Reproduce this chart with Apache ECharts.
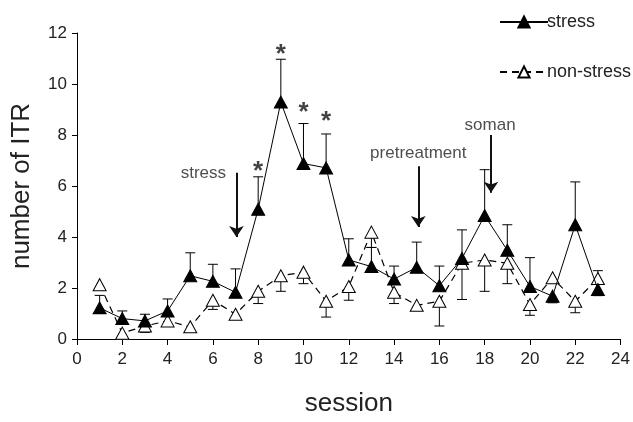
<!DOCTYPE html>
<html lang="en">
<head>
    <meta charset="UTF-8">
    <title>number of ITR per session</title>
    <script src="https://cdn.jsdelivr.net/npm/echarts@6/dist/echarts.min.js"></script>
    <style>
        html, body { margin: 0; padding: 0; background: #fff; }
        #main { width: 633px; height: 422px; }
    </style>
</head>
<body>
<div id="main"></div>
<script>
    // sessions 1..23
    var sessions = [1, 2, 3, 4, 5, 6, 7, 8, 9, 10, 11, 12, 13, 14, 15, 16, 17, 18, 19, 20, 21, 22, 23];

    var stress = [1.22, 0.80, 0.71, 1.10, 2.48, 2.26, 1.83, 5.09, 9.29, 6.88, 6.71, 3.10,
        2.84, 2.35, 2.81, 2.09, 3.16, 4.84, 3.48, 2.06, 1.68, 4.48, 1.94];
    var stressErrUp = [0.49, 0.30, 0.26, 0.47, 0.90, 0.67, 0.92, 1.27, 1.68, 1.57, 1.33, 0.83,
        0.75, 0.51, 0.99, 0.77, 1.12, 1.80, 1.00, 1.13, 0, 1.68, 0];
    var stressErrDown = [0, 0, 0, 0, 0, 0, 0, 0, 0, 0, 0, 0,
        0, 0, 0, 0, 0, 0, 0, 0, 0.26, 0, 0.24];

    var nonStress = [2.13, 0.23, 0.51, 0.71, 0.48, 1.52, 0.97, 1.87, 2.48, 2.62, 1.48, 2.06,
        4.19, 1.83, 1.32, 1.48, 2.97, 3.10, 2.97, 1.35, 2.40, 1.48, 2.37];
    var nonErrDown = [0, 0, 0.25, 0, 0, 0.36, 0, 0.48, 0.61, 0.45, 0.62, 0.54,
        0.60, 0.44, 0, 0.97, 1.42, 1.23, 0.80, 0.42, 0, 0.45, 0];
    var nonErrUp = [0, 0, 0, 0, 0, 0, 0, 0, 0, 0, 0, 0,
        0, 0, 0, 0, 0, 0, 0, 0, 0, 0, 0.31];

    // significance stars [session, y]
    var stars = [[8, 6.79], [9, 11.36], [10, 9.1], [11, 8.77]];

    // arrow annotations
    var noteText = ['stress', 'pretreatment', 'soman'];
    var notePos = [[5.58, 6.48], [15.07, 7.3], [18.24, 8.38]];
    var arrowFrom = [[7.04, 6.52], [15.07, 6.77], [18.28, 8.0]];
    var arrowTo = [[7.04, 4.0], [15.07, 4.39], [18.28, 5.74]];

    var FONT = "'Liberation Sans', Arial, sans-serif";

    var errData = [];
    for (var i = 0; i < sessions.length; i++) {
        if (stressErrUp[i] > 0) errData.push([sessions[i], stress[i], stress[i] + stressErrUp[i]]);
        if (stressErrDown[i] > 0) errData.push([sessions[i], stress[i], stress[i] - stressErrDown[i]]);
        if (nonErrUp[i] > 0) errData.push([sessions[i], nonStress[i], nonStress[i] + nonErrUp[i]]);
        if (nonErrDown[i] > 0) errData.push([sessions[i], nonStress[i], nonStress[i] - nonErrDown[i]]);
    }

    var stressData = sessions.map(function (s, i) { return [s, stress[i]]; });
    var nonData = sessions.map(function (s, i) { return [s, nonStress[i]]; });

    var arrowData = arrowFrom.map(function (p, i) { return { coords: [p, arrowTo[i]] }; });
    var noteData = notePos.map(function (p, i) { return { name: noteText[i], value: p }; });
    var starData = stars.map(function (p) { return { name: '*', value: p }; });

    var mychart = echarts.init(document.getElementById('main'));

    var option = {
        backgroundColor: '#fff',
        animation: false,
        textStyle: { fontFamily: FONT, color: '#222' },
        grid: { left: 77, right: 6, top: 33, bottom: 78, containLabel: false },
        legend: {
            data: ['stress', 'non-stress'],
            orient: 'vertical',
            left: 494,
            top: 8,
            itemWidth: 48,
            itemHeight: 14,
            itemGap: 32,
            textStyle: { fontFamily: FONT, fontSize: 18, color: '#222', padding: [0, 0, 0, -6] }
        },
        xAxis: {
            type: 'value',
            min: 0,
            max: 24,
            interval: 2,
            name: 'session',
            nameLocation: 'middle',
            nameGap: 52,
            nameTextStyle: { fontSize: 26, color: '#222', fontFamily: FONT },
            axisLine: { lineStyle: { color: '#000', width: 1 } },
            axisTick: { length: 6, lineStyle: { color: '#000' } },
            axisLabel: { fontSize: 17, color: '#222', margin: 12, fontFamily: FONT },
            splitLine: { show: false }
        },
        yAxis: {
            type: 'value',
            min: 0,
            max: 12,
            interval: 2,
            name: 'number of ITR',
            nameLocation: 'middle',
            nameGap: 42,
            nameTextStyle: { fontSize: 26, color: '#222', fontFamily: FONT },
            axisLine: { show: true, lineStyle: { color: '#000', width: 1 } },
            axisTick: { show: true, length: 5, lineStyle: { color: '#000' } },
            axisLabel: { fontSize: 17, color: '#222', margin: 10, fontFamily: FONT },
            splitLine: { show: false }
        },
        series: [
            {
                name: 'err',
                type: 'custom',
                data: errData,
                z: 1,
                renderItem: function (params, api) {
                    var x = api.value(0);
                    var p1 = api.coord([x, api.value(1)]);
                    var p2 = api.coord([x, api.value(2)]);
                    var st = { stroke: '#000', lineWidth: 1 };
                    return {
                        type: 'group',
                        children: [
                            { type: 'line', shape: { x1: p1[0], y1: p1[1], x2: p2[0], y2: p2[1] }, style: st },
                            { type: 'line', shape: { x1: p2[0] - 5, y1: p2[1], x2: p2[0] + 5, y2: p2[1] }, style: st }
                        ]
                    };
                }
            },
            {
                name: 'non-stress',
                type: 'line',
                data: nonData,
                z: 2,
                symbol: 'triangle',
                symbolSize: [13, 12],
                lineStyle: { color: '#000', width: 1.2, type: [7, 5] },
                itemStyle: { color: '#fff', borderColor: '#000', borderWidth: 1 }
            },
            {
                name: 'stress',
                type: 'line',
                data: stressData,
                z: 3,
                symbol: 'triangle',
                symbolSize: [13, 12],
                lineStyle: { color: '#000', width: 1 },
                itemStyle: { color: '#000', borderColor: '#000', borderWidth: 1 }
            },
            {
                name: 'arrows',
                type: 'lines',
                coordinateSystem: 'cartesian2d',
                data: arrowData,
                z: 4,
                symbol: ['none', 'arrow'],
                symbolSize: 11,
                lineStyle: { color: '#111', width: 2, opacity: 1 }
            },
            {
                name: 'notes',
                type: 'scatter',
                data: noteData,
                z: 5,
                symbolSize: 0,
                label: {
                    show: true,
                    position: 'inside',
                    formatter: '{b}',
                    fontSize: 17,
                    color: '#222',
                    fontFamily: FONT
                }
            },
            {
                name: 'stars',
                type: 'scatter',
                data: starData,
                z: 5,
                symbolSize: 0,
                label: {
                    show: true,
                    position: 'inside',
                    formatter: '{b}',
                    fontSize: 26,
                    fontWeight: 'bold',
                    color: '#111',
                    offset: [0, 6],
                    fontFamily: FONT
                }
            }
        ]
    };
    mychart.setOption(option);
</script>
</body>
</html>
